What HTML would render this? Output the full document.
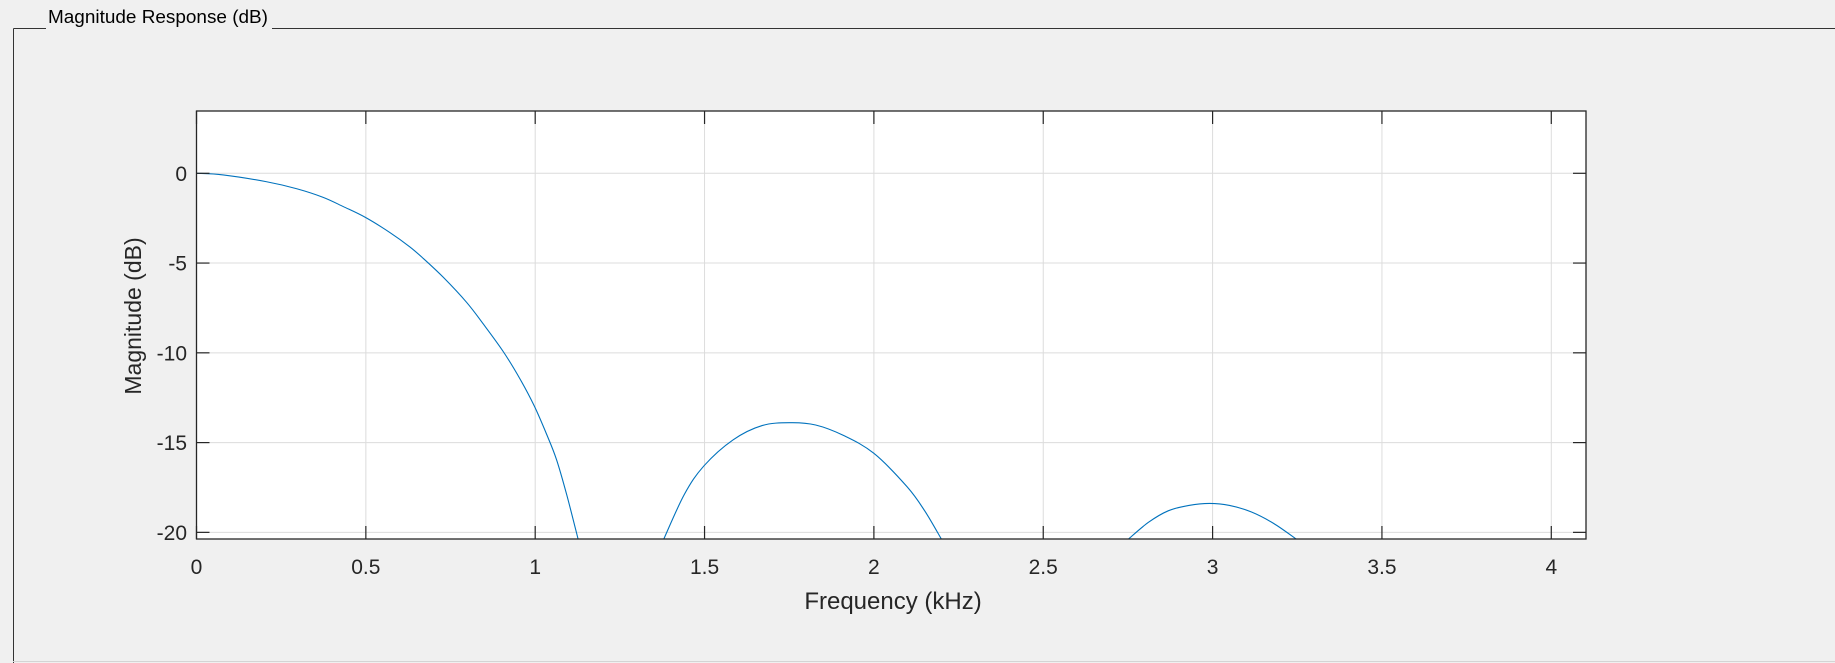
<!DOCTYPE html>
<html><head><meta charset="utf-8"><style>
html,body{margin:0;padding:0;background:#f0f0f0;}
svg{display:block;font-family:"Liberation Sans",Arial,sans-serif;}
</style></head><body>
<svg id="chart" width="1835" height="663" viewBox="0 0 1835 663">
  <rect x="0" y="0" width="1835" height="663" fill="#f0f0f0"/>
  <g>
    <line x1="13.5" y1="28.5" x2="46" y2="28.5" stroke="#333" stroke-width="1"/>
    <line x1="272" y1="28.5" x2="1835" y2="28.5" stroke="#333" stroke-width="1"/>
    <line x1="13.5" y1="28.5" x2="13.5" y2="663" stroke="#333" stroke-width="1"/>
    <line x1="13" y1="661.5" x2="1835" y2="661.5" stroke="#d4d4d4" stroke-width="1"/>
  </g>
  <text x="48" y="23" font-size="18" textLength="220" lengthAdjust="spacingAndGlyphs" fill="#000">Magnitude Response (dB)</text>
  <rect x="196.5" y="111" width="1389.5" height="428" fill="#fff"/>
  <g id="grid"></g>
  <g id="series"></g>
  <g id="axes"></g>
  <text x="893" y="609" font-size="24" text-anchor="middle" fill="#262626">Frequency (kHz)</text>
  <text transform="translate(141,316) rotate(-90)" font-size="23" text-anchor="middle" fill="#262626">Magnitude (dB)</text>
</svg>
<script>
const xTicks = [0, 0.5, 1, 1.5, 2, 2.5, 3, 3.5, 4];
const xTickLabels = ["0", "0.5", "1", "1.5", "2", "2.5", "3", "3.5", "4"];
const yTicks = [0, -5, -10, -15, -20];
const yTickLabels = ["0", "-5", "-10", "-15", "-20"];
const lobe1F = [0, 0.079, 0.207, 0.296, 0.374, 0.434, 0.498, 0.571, 0.630, 0.670, 0.729, 0.798, 0.847, 0.906, 0.955, 0.997, 1.034, 1.063, 1.093, 1.127];
const lobe1M = [0, -0.09, -0.47, -0.86, -1.34, -1.86, -2.45, -3.3, -4.1, -4.75, -5.8, -7.2, -8.4, -9.94, -11.45, -12.95, -14.55, -15.95, -17.9, -20.4];
const lobe2F = [1.379, 1.44, 1.498, 1.584, 1.67, 1.755, 1.828, 1.91, 2.0, 2.098, 2.15, 2.2];
const lobe2M = [-20.4, -17.9, -16.3, -14.85, -14.05, -13.89, -14.02, -14.6, -15.6, -17.46, -18.8, -20.4];
const lobe3F = [2.75, 2.81, 2.869, 2.93, 2.991, 3.05, 3.114, 3.18, 3.249];
const lobe3M = [-20.4, -19.45, -18.8, -18.5, -18.39, -18.5, -18.86, -19.5, -20.4];

const X0 = 196.5, X1 = 1586, Y0 = 111, Y1 = 539;
const xMin = 0, xMax = 4.1025, yMin = -20.37, yMax = 3.47;
const NS = "http://www.w3.org/2000/svg";
function sx(v){ return X0 + (v - xMin) / (xMax - xMin) * (X1 - X0); }
function sy(v){ return Y1 - (v - yMin) / (yMax - yMin) * (Y1 - Y0); }
function mk(tag, attrs, parent){
  const e = document.createElementNS(NS, tag);
  for (const k in attrs) e.setAttribute(k, attrs[k]);
  parent.appendChild(e);
  return e;
}
const grid = document.getElementById('grid');
const axes = document.getElementById('axes');
const series = document.getElementById('series');

xTicks.forEach((t, i) => {
  const x = sx(t);
  const g = mk('line', {x1:x, y1:Y0, x2:x, y2:Y1, stroke:'#dcdcdc', 'stroke-width':1}, grid);
  
  
  const tb = mk('line', {x1:x, y1:Y1, x2:x, y2:Y1-13, stroke:'#262626', 'stroke-width':1.2}, axes);
  
  
  const tt = mk('line', {x1:x, y1:Y0, x2:x, y2:Y0+13, stroke:'#262626', 'stroke-width':1.2}, axes);
  
  
  const lbl = mk('text', {x:x, y:574, 'font-size':21, 'text-anchor':'middle', fill:'#262626'}, axes);
  lbl.textContent = xTickLabels[i];
  
  
});
yTicks.forEach((t, i) => {
  const y = sy(t);
  const g = mk('line', {x1:X0, y1:y, x2:X1, y2:y, stroke:'#dcdcdc', 'stroke-width':1}, grid);
  
  
  const tl = mk('line', {x1:X0, y1:y, x2:X0+13, y2:y, stroke:'#262626', 'stroke-width':1.2}, axes);
  
  
  const tr = mk('line', {x1:X1, y1:y, x2:X1-13, y2:y, stroke:'#262626', 'stroke-width':1.2}, axes);
  
  
  const lbl = mk('text', {x:187, y:y+7.5, 'font-size':21, 'text-anchor':'end', fill:'#262626'}, axes);
  lbl.textContent = yTickLabels[i];
  
  
});
const box = mk('rect', {x:X0, y:Y0, width:X1-X0, height:Y1-Y0, fill:'none', stroke:'#262626', 'stroke-width':1.3}, axes);



const clip = mk('clipPath', {id:'pc'}, document.getElementById('chart'));
mk('rect', {x:X0, y:Y0, width:X1-X0, height:Y1-Y0}, clip);
[[lobe1F, lobe1M, 'main-lobe'], [lobe2F, lobe2M, 'side-lobe-1'], [lobe3F, lobe3M, 'side-lobe-2']].forEach(([F, M, name]) => {
  const pts = F.map((f, i) => [sx(f), sy(M[i])]);
  let d = 'M' + pts[0][0] + ',' + pts[0][1];
  for (let i = 0; i < pts.length - 1; i++) {
    const p0 = pts[Math.max(0, i-1)], p1 = pts[i], p2 = pts[i+1], p3 = pts[Math.min(pts.length-1, i+2)];
    const c1x = p1[0] + (p2[0]-p0[0])/6, c1y = p1[1] + (p2[1]-p0[1])/6;
    const c2x = p2[0] - (p3[0]-p1[0])/6, c2y = p2[1] - (p3[1]-p1[1])/6;
    d += ' C' + c1x + ',' + c1y + ' ' + c2x + ',' + c2y + ' ' + p2[0] + ',' + p2[1];
  }
  const p = mk('path', {d:d, fill:'none', stroke:'#0072bd', 'stroke-width':1.1, 'clip-path':'url(#pc)'}, series);
  
  
});
</script>
</body></html>
